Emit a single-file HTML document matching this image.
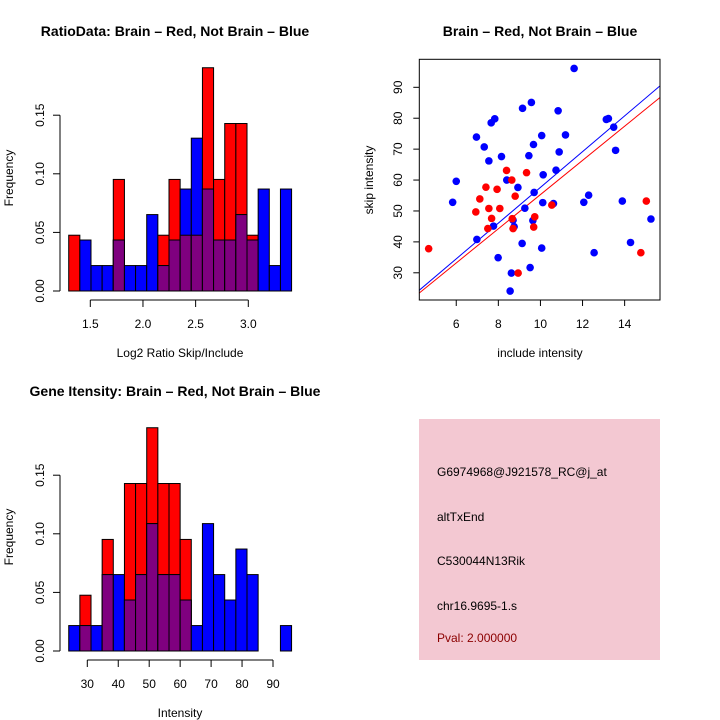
<!DOCTYPE html>
<html><head><meta charset="utf-8">
<style>
body{margin:0;background:#fff;}
svg{display:block;font-family:"Liberation Sans",Arial,sans-serif;}
</style></head>
<body>
<svg id="c" width="720" height="720" xmlns="http://www.w3.org/2000/svg">
<rect width="720" height="720" fill="#fff"/>
</svg>
<script>
// ---- Data: top-left ratio histogram ----
const ratioStart = 1.295;
const ratioBin = 0.1058;
const ratioRed  = [0.0476,0,0,0,0.0952,0,0,0,0.0476,0.0952,0.0476,0.0476,0.1905,0.0952,0.1429,0.1429,0.0476,0,0,0];
const ratioBlue = [0,0.0435,0.0217,0.0217,0.0435,0.0217,0.0217,0.0652,0.0217,0.0435,0.0870,0.1304,0.0870,0.0435,0.0435,0.0652,0.0435,0.0870,0.0217,0.0870];
const ratioXTicks = [1.5,2.0,2.5,3.0];
const freqTicks = [0,0.05,0.10,0.15];
const freqTickLabels = ["0.00","0.05","0.10","0.15"];
// ---- Data: bottom intensity histogram ----
const intStart = 24.0;
const intBin = 3.6;
const intRed  = [0,0.0476,0,0.0952,0,0.1429,0.1429,0.1905,0.1429,0.1429,0.0952,0,0,0,0,0,0,0,0,0];
const intBlue = [0.0217,0.0217,0.0217,0.0652,0.0652,0.0435,0.0652,0.1087,0.0652,0.0652,0.0435,0.0217,0.1087,0.0652,0.0435,0.0870,0.0652,0,0,0.0217];
const intXTicks = [30,40,50,60,70,80,90];
// ---- Data: scatter ----
const blueX = [6.0,5.83,6.98,6.96,7.33,7.55,7.66,7.83,7.77,7.99,8.15,8.40,8.56,8.62,8.70,8.75,8.93,9.13,9.15,9.26,9.45,9.51,9.57,9.64,9.67,9.70,10.06,10.06,10.13,10.11,10.62,10.74,10.84,10.89,11.19,11.60,12.06,12.29,12.55,13.13,13.23,13.48,13.57,13.89,14.28,15.25];
const blueY = [59.6,52.8,40.8,73.9,70.7,66.2,78.5,79.8,45.1,34.9,67.6,60.0,24.1,29.9,47.0,44.9,57.6,39.5,83.2,50.9,67.9,31.7,85.1,46.9,71.5,56.0,38.0,74.4,61.7,52.7,52.4,63.2,82.4,69.1,74.6,96.1,52.8,55.1,36.5,79.6,79.9,77.1,69.6,53.2,39.8,47.4];
const redX = [4.69,6.93,7.12,7.41,7.55,7.50,7.68,7.94,8.07,8.39,8.64,8.66,8.70,8.80,8.94,9.34,9.68,9.73,10.54,14.77,15.03];
const redY = [37.8,49.7,53.9,57.7,50.8,44.3,47.6,57.0,50.8,63.1,60.0,47.5,44.3,54.8,29.9,62.4,44.8,48.1,51.9,36.5,53.2];
const fitBlue = [-0.17,5.78]; // intercept, slope
const fitRed = [0.0,5.53];
const scatXTicks = [6,8,10,12,14];
const scatYTicks = [30,40,50,60,70,80,90];

const svg = document.getElementById('c');
const NS = 'http://www.w3.org/2000/svg';
function mk(tag, attrs, parent){
  const e = document.createElementNS(NS, tag);
  for (const k in attrs) e.setAttribute(k, attrs[k]);
  (parent||svg).appendChild(e);
  return e;
}
function txt(x,y,s,opts,parent){
  const t = mk('text',Object.assign({x:x,y:y,'font-size':12,'text-anchor':'middle',fill:'#000'},opts||{}),parent);
  t.textContent = s;
  return t;
}

function histogram(name, top, start, bin, red, blue, xTicks, sx, xAxisY, xLabel, title, xLabelY, yLabelCY){
  const g = mk('g',{});
  
  
  const base = top;
  const sy = v => base - v/0.05*58.6;
  const n = red.length;
  for (let i=0;i<n;i++){
    const x0 = sx(start + i*bin), x1 = sx(start+(i+1)*bin);
    const r = red[i], b = blue[i];
    if (r>0){
      const e = mk('rect',{x:x0,y:sy(r),width:x1-x0,height:base-sy(r),fill:'#ff0000',stroke:'#000','stroke-width':1},g);
      
      
    }
    if (b>0){
      const e = mk('rect',{x:x0,y:sy(b),width:x1-x0,height:base-sy(b),fill:'#0000ff',stroke:'#000','stroke-width':1},g);
      
      
    }
    const m = Math.min(r,b);
    if (m>0){
      const e = mk('rect',{x:x0,y:sy(m),width:x1-x0,height:base-sy(m),fill:'#7f007f',stroke:'#000','stroke-width':1},g);
      
      
    }
  }
  mk('line',{x1:60,x2:60,y1:sy(0),y2:sy(0.15),stroke:'#000'},g);
  freqTicks.forEach((v,i)=>{
    mk('line',{x1:53,x2:60,y1:sy(v),y2:sy(v),stroke:'#000'},g);
    const t = txt(0,0,freqTickLabels[i],{transform:`translate(44,${sy(v)}) rotate(-90)`},g);
    
    
  });
  mk('line',{x1:sx(xTicks[0]),x2:sx(xTicks[xTicks.length-1]),y1:xAxisY,y2:xAxisY,stroke:'#000'},g);
  xTicks.forEach(v=>{
    mk('line',{x1:sx(v),x2:sx(v),y1:xAxisY,y2:xAxisY+7,stroke:'#000'},g);
    const t = txt(sx(v),xAxisY+28,String(v%1===0 && v<10 ? v.toFixed(1) : v),{},g);
    
    
  });
  const xl = txt(180,xLabelY,xLabel,{},g);
  
  
  const yl = txt(0,0,'Frequency',{transform:`translate(13,${yLabelCY}) rotate(-90)`},g);
  
  
  const tt = txt(175,top-255,title,{'font-size':14,'font-weight':'bold'},g);
  
  
}

const sxRatio = v => 90.3 + (v-1.5)*105.33;
histogram('ratio-histogram',291,ratioStart,ratioBin,ratioRed,ratioBlue,ratioXTicks,sxRatio,300,'Log2 Ratio Skip/Include','RatioData: Brain \u2013 Red, Not Brain \u2013 Blue',357,178);
const sxInt = v => 87.3 + (v-30)*3.095;
histogram('intensity-histogram',651,intStart,intBin,intRed,intBlue,intXTicks,sxInt,660,'Intensity','Gene Itensity: Brain \u2013 Red, Not Brain \u2013 Blue',717,537);

(function(){
  const g = mk('g',{});
  
  
  const X0=419.3,X1=660,Y0=59.3,Y1=300;
  const xmin=4.245,xmax=15.68,ymin=21.2,ymax=99.06;
  const sx = v => X0 + (v-xmin)/(xmax-xmin)*(X1-X0);
  const sy = v => Y1 - (v-ymin)/(ymax-ymin)*(Y1-Y0);
  const clip = mk('clipPath',{id:'sc'},g);
  mk('rect',{x:X0,y:Y0,width:X1-X0,height:Y1-Y0},clip);
  [[fitBlue,'#0000ff','fit-line-blue'],[fitRed,'#ff0000','fit-line-red']].forEach(([f,c,n])=>{
    const l = mk('line',{x1:sx(xmin),y1:sy(f[0]+f[1]*xmin),x2:sx(xmax),y2:sy(f[0]+f[1]*xmax),stroke:c,'stroke-width':1,'clip-path':'url(#sc)'},g);
    
    
  });
  blueX.forEach((x,i)=>{
    const p = mk('circle',{cx:sx(x),cy:sy(blueY[i]),r:3.8,fill:'#0000ff'},g);
    
    
  });
  redX.forEach((x,i)=>{
    const p = mk('circle',{cx:sx(x),cy:sy(redY[i]),r:3.8,fill:'#ff0000'},g);
    
    
  });
  mk('rect',{x:X0,y:Y0,width:X1-X0,height:Y1-Y0,fill:'none',stroke:'#000'},g);
  scatXTicks.forEach(v=>{
    mk('line',{x1:sx(v),x2:sx(v),y1:Y1,y2:Y1+6,stroke:'#000'},g);
    const t = txt(sx(v),Y1+28,String(v),{},g);
    
    
  });
  scatYTicks.forEach(v=>{
    mk('line',{x1:X0-6,x2:X0,y1:sy(v),y2:sy(v),stroke:'#000'},g);
    const t = txt(0,0,String(v),{transform:`translate(402,${sy(v)}) rotate(-90)`},g);
    
    
  });
  const xl = txt(540,357,'include intensity',{},g);
  
  
  const yl = txt(0,0,'skip intensity',{transform:'translate(373,180) rotate(-90)'},g);
  
  
  const tt = txt(540,36,'Brain \u2013 Red, Not Brain \u2013 Blue',{'font-size':14,'font-weight':'bold'},g);
  
  
})();
</script>
<svg style="position:absolute;left:0;top:0" width="720" height="720">
  <rect x="419" y="419" width="241" height="241" fill="#f3c8d2"/>
  <g font-family="Liberation Sans, Arial, sans-serif" font-size="12">
    <text x="437" y="476" fill="#000">G6974968@J921578_RC@j_at</text>
    <text x="437" y="521" fill="#000">altTxEnd</text>
    <text x="437" y="565" fill="#000">C530044N13Rik</text>
    <text x="437" y="610" fill="#000">chr16.9695-1.s</text>
    <text x="437" y="642" fill="#8b0000">Pval: 2.000000</text>
  </g>
</svg>
</body></html>
